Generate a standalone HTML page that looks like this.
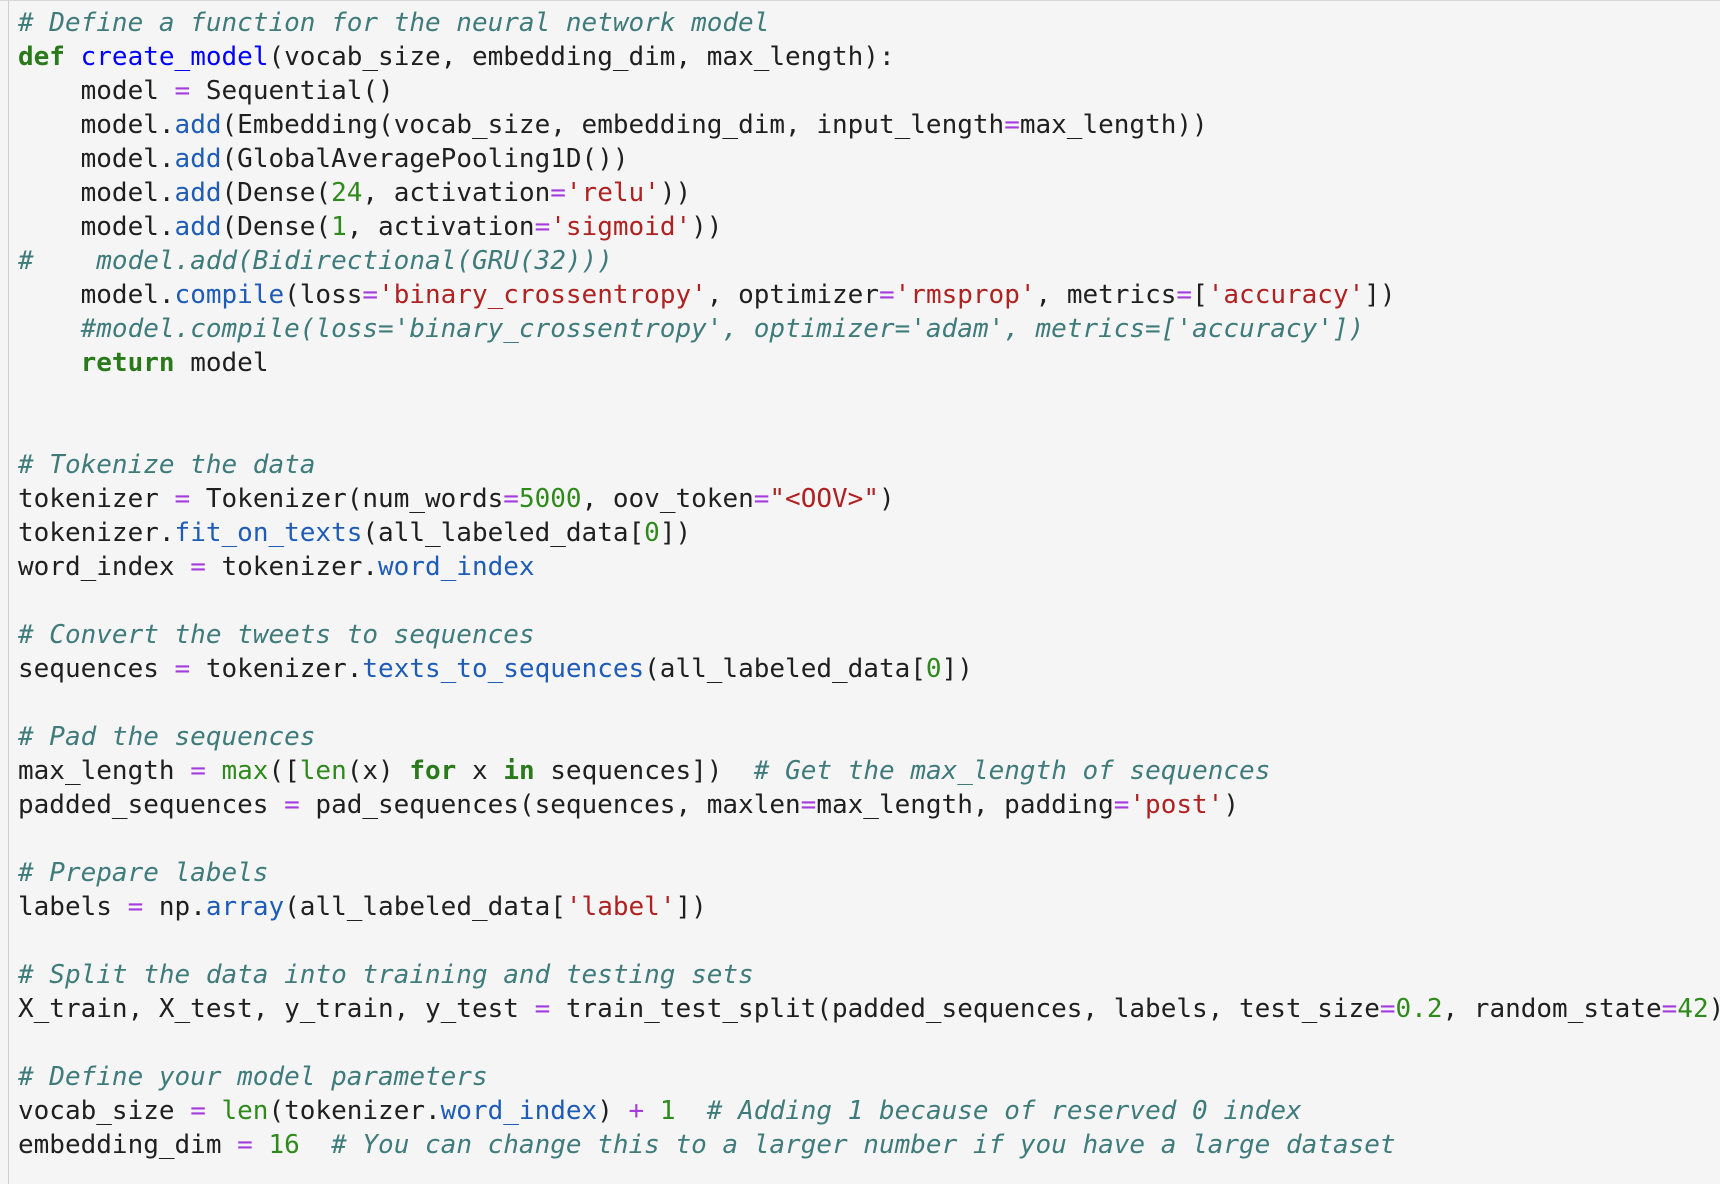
<!DOCTYPE html>
<html><head><meta charset="utf-8"><style>
html,body{margin:0;padding:0;}
body{width:1720px;height:1184px;background:#f5f5f5;overflow:hidden;position:relative;}
.bl{position:absolute;left:8px;top:0;width:1px;height:1184px;background:#d0d0d0;}
.bt{position:absolute;left:0;top:0;width:1720px;height:1px;background:#d8d8d8;}
pre{position:absolute;left:18px;top:6px;margin:0;font-family:"DejaVu Sans Mono","Liberation Mono",monospace;font-size:26px;line-height:34px;color:#1f1f1f;white-space:pre;}
.c{color:#3f7b7b;font-style:italic;}
.k{color:#2a7a1c;font-weight:bold;}
.f{color:#0000ff;}
.m{color:#1f5cb8;}
.o{color:#a63be0;}
.s{color:#b02222;}
.n{color:#2f8a1c;}
</style></head><body>
<div class="bt"></div><div class="bl"></div>
<pre><span class="c"># Define a function for the neural network model</span>
<span class="k">def</span> <span class="f">create_model</span>(vocab_size, embedding_dim, max_length):
    model <span class="o">=</span> Sequential()
    model.<span class="m">add</span>(Embedding(vocab_size, embedding_dim, input_length<span class="o">=</span>max_length))
    model.<span class="m">add</span>(GlobalAveragePooling1D())
    model.<span class="m">add</span>(Dense(<span class="n">24</span>, activation<span class="o">=</span><span class="s">'relu'</span>))
    model.<span class="m">add</span>(Dense(<span class="n">1</span>, activation<span class="o">=</span><span class="s">'sigmoid'</span>))
<span class="c">#    model.add(Bidirectional(GRU(32)))</span>
    model.<span class="m">compile</span>(loss<span class="o">=</span><span class="s">'binary_crossentropy'</span>, optimizer<span class="o">=</span><span class="s">'rmsprop'</span>, metrics<span class="o">=</span>[<span class="s">'accuracy'</span>])
    <span class="c">#model.compile(loss='binary_crossentropy', optimizer='adam', metrics=['accuracy'])</span>
    <span class="k">return</span> model


<span class="c"># Tokenize the data</span>
tokenizer <span class="o">=</span> Tokenizer(num_words<span class="o">=</span><span class="n">5000</span>, oov_token<span class="o">=</span><span class="s">"&lt;OOV&gt;"</span>)
tokenizer.<span class="m">fit_on_texts</span>(all_labeled_data[<span class="n">0</span>])
word_index <span class="o">=</span> tokenizer.<span class="m">word_index</span>

<span class="c"># Convert the tweets to sequences</span>
sequences <span class="o">=</span> tokenizer.<span class="m">texts_to_sequences</span>(all_labeled_data[<span class="n">0</span>])

<span class="c"># Pad the sequences</span>
max_length <span class="o">=</span> <span class="n">max</span>([<span class="n">len</span>(x) <span class="k">for</span> x <span class="k">in</span> sequences])  <span class="c"># Get the max_length of sequences</span>
padded_sequences <span class="o">=</span> pad_sequences(sequences, maxlen<span class="o">=</span>max_length, padding<span class="o">=</span><span class="s">'post'</span>)

<span class="c"># Prepare labels</span>
labels <span class="o">=</span> np.<span class="m">array</span>(all_labeled_data[<span class="s">'label'</span>])

<span class="c"># Split the data into training and testing sets</span>
X_train, X_test, y_train, y_test <span class="o">=</span> train_test_split(padded_sequences, labels, test_size<span class="o">=</span><span class="n">0.2</span>, random_state<span class="o">=</span><span class="n">42</span>)

<span class="c"># Define your model parameters</span>
vocab_size <span class="o">=</span> <span class="n">len</span>(tokenizer.<span class="m">word_index</span>) <span class="o">+</span> <span class="n">1</span>  <span class="c"># Adding 1 because of reserved 0 index</span>
embedding_dim <span class="o">=</span> <span class="n">16</span>  <span class="c"># You can change this to a larger number if you have a large dataset</span></pre>
</body></html>
